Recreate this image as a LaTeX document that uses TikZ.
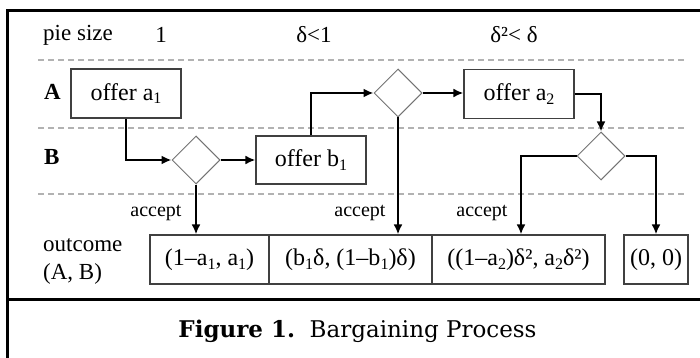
\documentclass[tikz,border=0pt]{standalone}
\usepackage{fontspec}
\setmainfont{Liberation Serif}
\newfontfamily\capfont{DejaVu Serif}
\usetikzlibrary{arrows.meta,shapes.geometric}
\newcommand\lo[1]{\raisebox{-.35ex}{\fontsize{16}{16}\selectfont #1}}
\begin{document}
\begin{tikzpicture}[x=1pt,y=-1pt,
  box/.style={draw=black!75, line width=1.2pt, minimum height=49pt, inner sep=0pt, font=\fontsize{24}{26}\selectfont},
  dec/.style={diamond, aspect=1, draw=black!55, line width=1pt, minimum width=48pt, minimum height=48pt, inner sep=0pt},
  flow/.style={line width=2.8pt, -{Latex[length=10pt,width=9pt]}},
  frame/.style={line width=3pt},
  sep/.style={draw=black!30, line width=1.5pt, dash pattern=on 6pt off 4pt},
  hdr/.style={font=\fontsize{23}{26}\selectfont, inner sep=0pt},
  lbl/.style={font=\fontsize{20}{22}\selectfont, inner sep=0pt},
  row/.style={font=\fontsize{23}{26}\selectfont\bfseries, inner sep=0pt, anchor=west}
]
\useasboundingbox (0,0) rectangle (700,358);
% frame
\draw[frame] (7,358) -- (7,11) -- (700,11);
\draw[frame] (7,299) -- (700,299);
% separators
\draw[sep] (38,60) -- (687,60);
\draw[sep] (38,128) -- (687,128);
\draw[sep] (38,194) -- (687,194);
% header
\node[hdr, anchor=west] (pie) at (43,35) {pie size};
\node[hdr] (p1) at (161,35) {1};
\node[hdr] (p2) at (314,35) {δ<1};
\node[hdr] (p3) at (514,35) {δ²< δ};
\node[row] (rA) at (44,92) {A};
\node[row] (rB) at (44,157) {B};
% boxes
\node[box, minimum width=110pt] (a1) at (126,93.5) {offer a\lo{1}};
\node[box, minimum width=110pt, minimum height=48pt] (b1) at (311,160) {offer b\lo{1}};
\node[box, minimum width=110pt] (a2) at (519,94) {offer a\lo{2}};
\node[dec] (d1) at (196,160) {};
\node[dec] (d2) at (398,93) {};
\node[dec] (d3) at (601,156) {};
% outcomes
\node[hdr, anchor=west] (oc) at (43,245) {outcome};
\node[hdr, anchor=west] (ab) at (43,274) {(A, B)};
\node[box, minimum width=119pt] (o1) at (209.5,259.5) {(1–a\lo{1}, a\lo{1})};
\node[box, minimum width=163pt] (o2) at (350.5,259.5) {(b\lo{1}δ, (1–b\lo{1})δ)};
\node[box, minimum width=173pt] (o3) at (518.5,259.5) {((1–a\lo{2})δ², a\lo{2}δ²)};
\node[box, minimum width=64pt] (o4) at (656,259.5) {(0, 0)};
% accept labels
\node[lbl] (ac1) at (156,213) {accept};
\node[lbl] (ac2) at (360,213) {accept};
\node[lbl] (ac3) at (482,213) {accept};
% flows
\draw[flow] (a1.south) |- (d1.west);
\draw[flow] (d1.east) -- (b1.west);
\draw[flow] (d1.south) -- (d1.south |- o1.north);
\draw[flow] (b1.north) |- (d2.west);
\draw[flow] (d2.east) -- (d2.east -| a2.west);
\draw[flow] (d2.south) -- (d2.south |- o2.north);
\draw[flow] (a2.east) -| (d3.north);
\draw[flow] (d3.west) -| ([xshift=2.5pt]o3.north);
\draw[flow] (d3.east) -| (o4.north);
% caption
\node[inner sep=0pt, font=\capfont\fontsize{23}{26}\selectfont] (cap) at (357.5,331) {\textbf{Figure 1.}\ \ Bargaining Process};
\end{tikzpicture}
\end{document}
